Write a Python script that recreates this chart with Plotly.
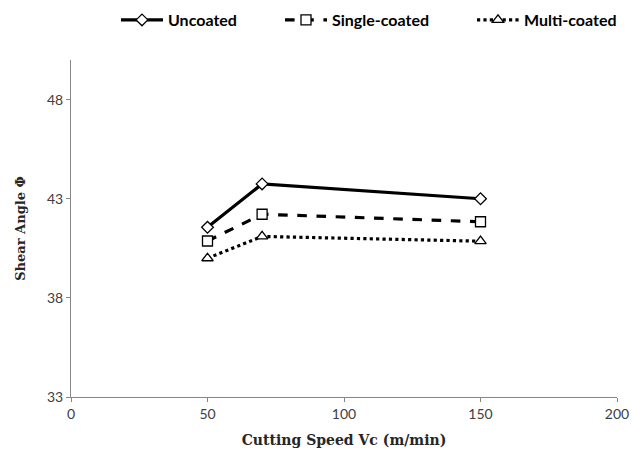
import plotly.graph_objects as go

speeds = [50, 70, 150]
uncoated = [41.56, 43.75, 43.0]
single_coated = [40.87, 42.22, 41.84]
multi_coated = [40.0, 41.1, 40.86]
series_names = ["Uncoated", "Single-coated", "Multi-coated"]

fig = go.Figure()
styles = [
    ("solid", "diamond", 9, "legend"),
    ("dash", "square", 10, "legend2"),
    ("dot", "triangle-up", 10, "legend3"),
]
for name, ys, (dash, sym, sz, leg) in zip(series_names, [uncoated, single_coated, multi_coated], styles):
    fig.add_trace(go.Scatter(
        x=speeds, y=ys, name=name, mode="lines+markers", legend=leg,
        line=dict(color="black", width=3.2, dash=dash),
        marker=dict(symbol=sym, size=sz, color="white", line=dict(color="black", width=1.3)),
    ))

axis_common = dict(
    showline=True, linecolor="#868686", linewidth=1, showgrid=False, zeroline=False,
    ticks="outside", ticklen=4, tickcolor="#868686", automargin=False,
    tickfont=dict(family="Lato, Liberation Sans, sans-serif", size=14, color="#404040"),
)
title_font = dict(family="DejaVu Serif, Liberation Serif, serif", size=14, color="#262626", weight="bold")
fig.update_xaxes(range=[0, 200], tickvals=[0, 50, 100, 150, 200],
                 title=dict(text="Cutting Speed Vc (m/min)", standoff=14, font=title_font),
                 **axis_common)
fig.update_yaxes(range=[33, 50], tickvals=[33, 38, 43, 48],
                 title=dict(text="Shear Angle Φ", standoff=18, font=dict(title_font, size=13)),
                 **axis_common)

leg_font = dict(family="Lato, Liberation Sans, sans-serif", size=16, color="black", weight="bold")
leg_common = dict(orientation="h", xref="container", yref="container", xanchor="left",
                  yanchor="middle", y=1 - 20 / 455, font=leg_font, itemwidth=42,
                  bgcolor="rgba(0,0,0,0)")
fig.update_layout(
    width=632, height=455,
    margin=dict(l=71, r=15, t=60, b=58),
    paper_bgcolor="white", plot_bgcolor="white",
    showlegend=True,
    legend=dict(x=116 / 632, **leg_common),
    legend2=dict(x=280 / 632, **leg_common),
    legend3=dict(x=472 / 632, **leg_common),
)

fig.write_html("out.html", config={"displayModeBar": False},
               post_script="document.body.style.margin='0';")
